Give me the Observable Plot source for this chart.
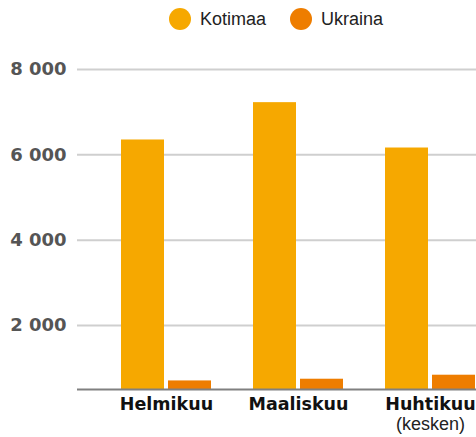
<!DOCTYPE html>
<html><head><meta charset="utf-8">
<script src="https://cdn.jsdelivr.net/npm/d3@7"></script>
<script src="https://cdn.jsdelivr.net/npm/@observablehq/plot@0.6"></script>
<style>
body{margin:0;background:#fff;}
#legend{height:38px;display:flex;align-items:center;padding-left:169px;font-family:"Liberation Sans",Arial,sans-serif;font-size:18px;color:#222;}
.item{display:flex;align-items:center;margin-right:24px;}
.sw{width:22px;height:22px;border-radius:50%;margin-right:9px;}
</style></head>
<body>
<div id="legend"></div>
<div id="chart"></div>
<script>
const months = ["Helmikuu", "Maaliskuu", "Huhtikuu"];
const kotimaa = [6348, 7223, 6160];
const ukraina = [701, 741, 835];
const series = ["Kotimaa", "Ukraina"];
const colors = ["#F6A800", "#EE7D00"];
const yTicks = [2000, 4000, 6000, 8000];
const notes = [{month: "Huhtikuu", note: "(kesken)"}];

const leg = document.getElementById("legend");
series.forEach((s, i) => {
  const it = document.createElement("div"); it.className = "item";
  const sw = document.createElement("div"); sw.className = "sw"; sw.style.background = colors[i];
  const t = document.createElement("span"); t.textContent = s;
  it.appendChild(sw); it.appendChild(t); leg.appendChild(it);
});

const rowsK = months.map((m, i) => ({month: m, series: "Kotimaa", value: kotimaa[i]}));
const rowsU = months.map((m, i) => ({month: m, series: "Ukraina", value: ukraina[i]}));
const fmt = d => d3.format(",")(d).replace(/,/g, " ");

const chart = Plot.plot({
  width: 476,
  height: 399,
  marginLeft: 77,
  marginRight: 0,
  marginTop: 31,
  marginBottom: 48,
  style: {fontFamily: "DejaVu Sans, sans-serif", background: "#fff"},
  x: {domain: months, range: [100, 496], padding: 0, axis: null},
  y: {domain: [500, 8000], axis: null},
  color: {domain: series, range: colors},
  marks: [
    Plot.ruleY(yTicks, {stroke: "#cfcfcf", strokeWidth: 2}),
    Plot.axisY(yTicks, {tickSize: 0, tickPadding: 11, tickFormat: fmt, fontSize: 18, fontWeight: "bold", fill: "#555", label: null}),
    Plot.barY(rowsK, {x: "month", y1: 500, y2: "value", fill: "series", insetLeft: 21, insetRight: 68}),
    Plot.barY(rowsU, {x: "month", y1: 500, y2: "value", fill: "series", insetLeft: 68, insetRight: 21}),
    Plot.ruleY([500], {stroke: "#808080", strokeWidth: 2}),
    Plot.text(months, {x: d => d, text: d => d, frameAnchor: "bottom", dy: 20, fontSize: 17.5, fontWeight: "bold", fill: "#111"}),
    Plot.text(notes, {x: "month", text: "note", frameAnchor: "bottom", dy: 40, fontSize: 18, fill: "#222", fontFamily: "Liberation Sans, Arial, sans-serif"})
  ]
});
document.getElementById("chart").appendChild(chart);
</script>
</body></html>
